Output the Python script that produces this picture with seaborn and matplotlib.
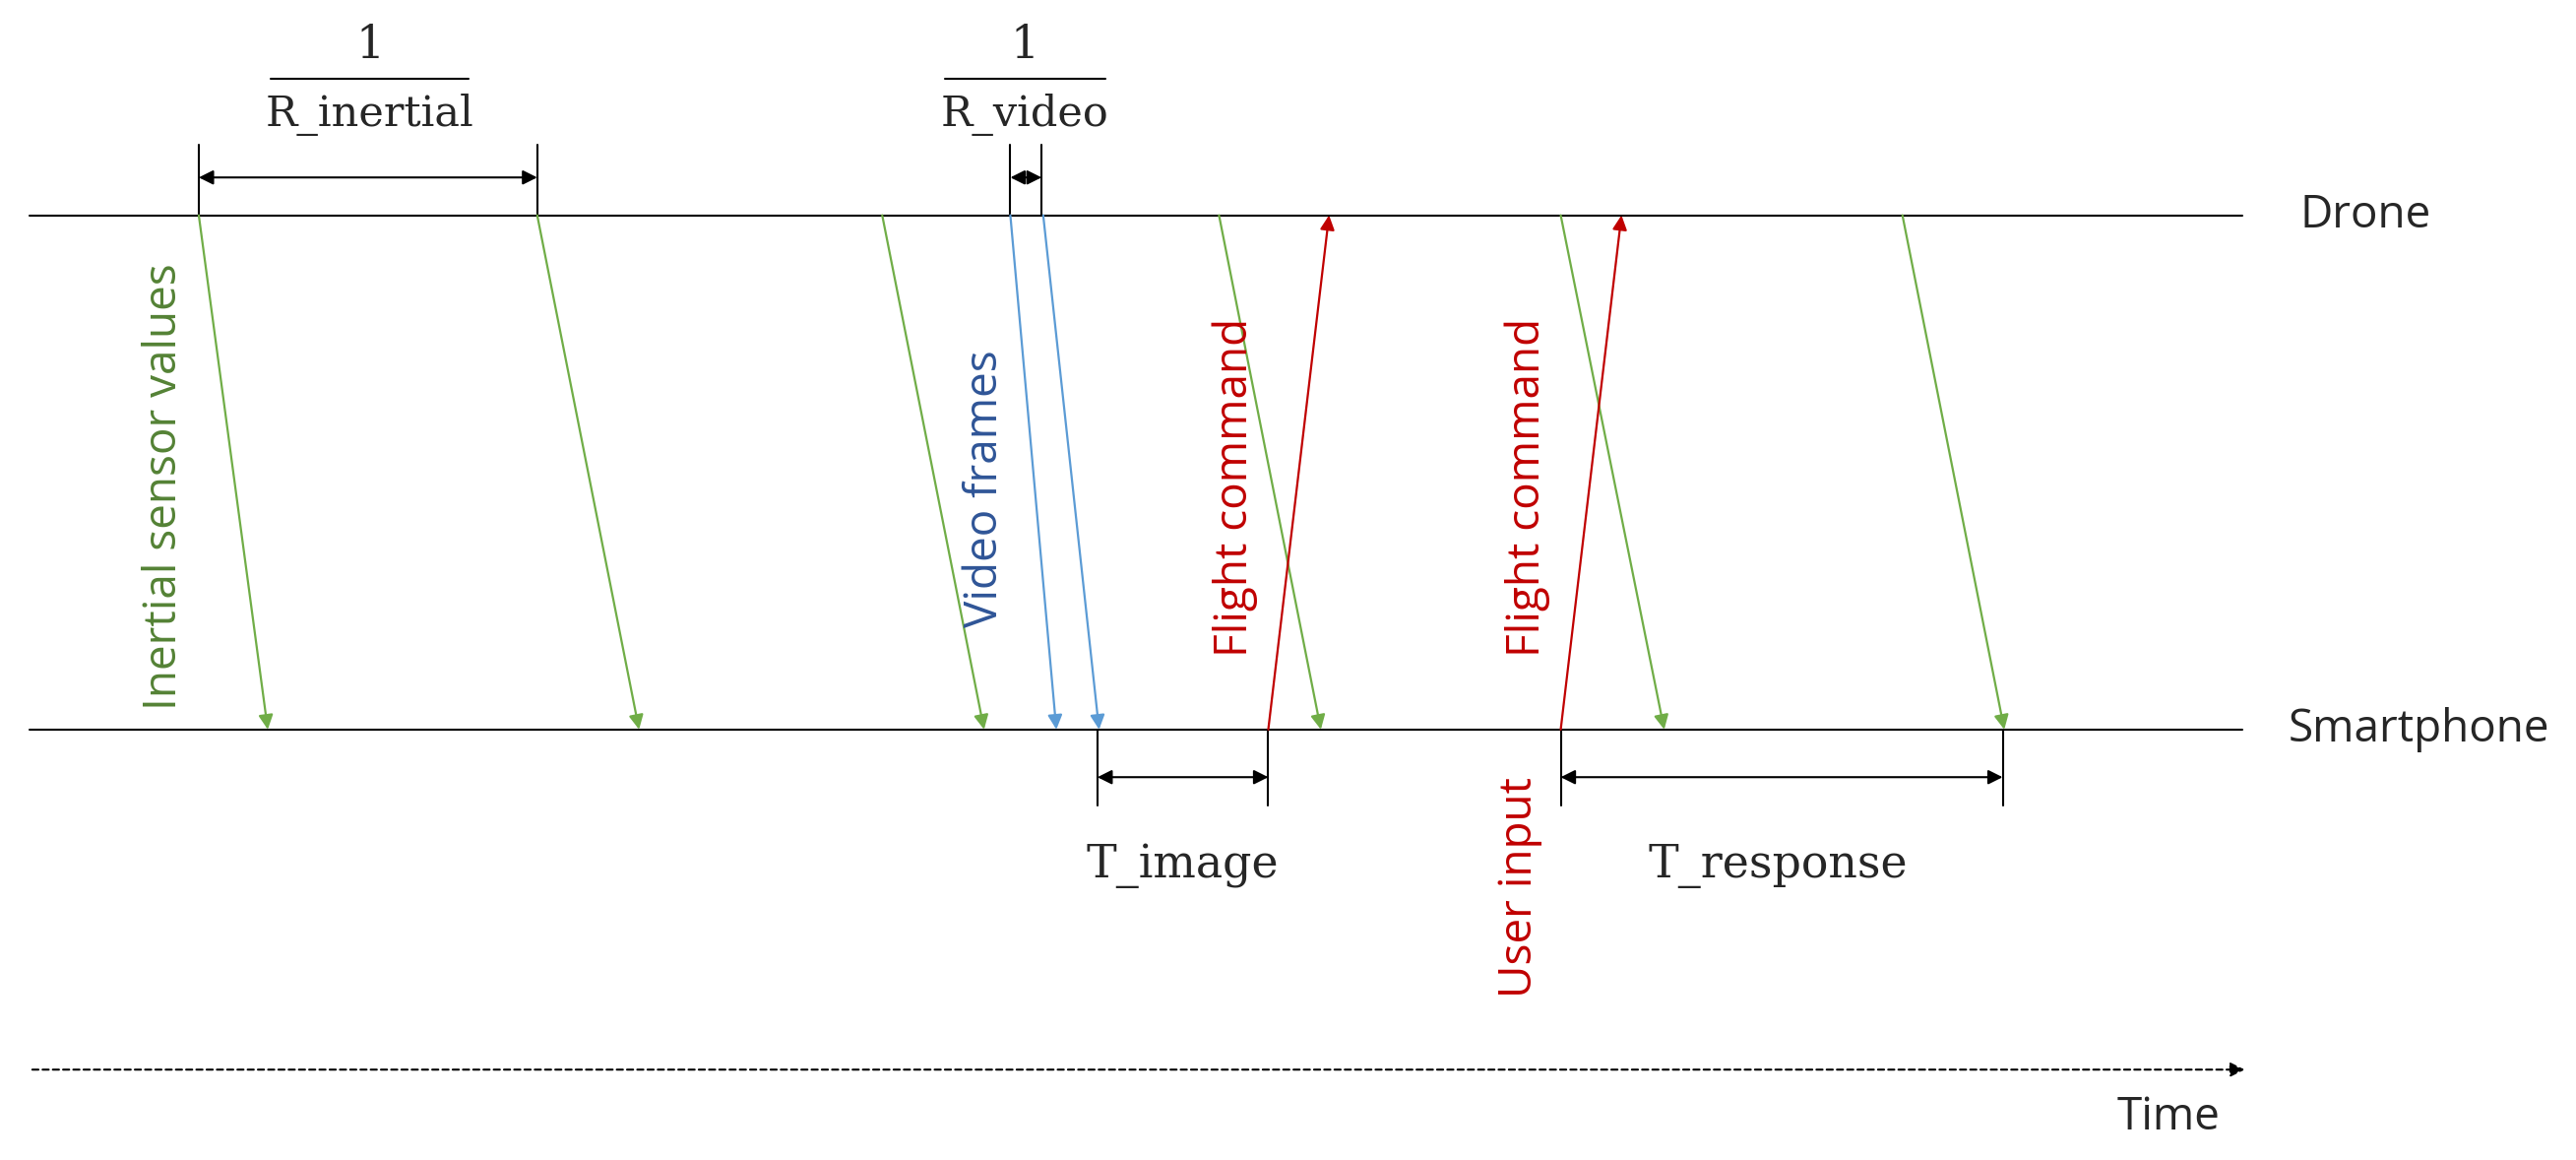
import seaborn as sns
import matplotlib.pyplot as plt
import pandas as pd

sns.set_theme(style="white")
plt.rcParams['font.family'] = ['Open Sans', 'DejaVu Sans']

# timeline (display units), arrows as (start time, end time)
drone_y = 131
phone_y = 444
inertial = [(121, 163), (327, 389), (537, 599), (742, 804), (950, 1013), (1158, 1220)]
video = [(615, 643), (635, 669)]
commands = [(772, 809), (950, 987)]

green = "#70AD47"
blue = "#5B9BD5"
red = "#C00000"
fs = 33

fig = plt.figure(figsize=(26.17, 11.78), dpi=100)
ax = fig.add_axes([0, 0, 1, 1])
ax.set_xlim(0, 1568)
ax.set_ylim(706, 0)
ax.axis("off")

lines = pd.DataFrame({"x": [18, 1365, 18, 1365], "y": [drone_y, drone_y, phone_y, phone_y],
                      "row": ["Drone", "Drone", "Smartphone", "Smartphone"]})
sns.lineplot(data=lines, x="x", y="y", units="row", estimator=None, color="black", lw=1.5, ax=ax)
ax.text(1400, drone_y, "Drone", fontsize=fs, va="center")
ax.text(1393, phone_y, "Smartphone", fontsize=fs, va="center")

def arrow(x0, y0, x1, y1, c, lw=1.6, style="-|>"):
    ax.annotate("", xy=(x1, y1), xytext=(x0, y0),
                arrowprops=dict(arrowstyle=style, color=c, lw=lw, mutation_scale=22, shrinkA=0, shrinkB=0))

for s, e in inertial:
    arrow(s, drone_y, e, phone_y, green)
for s, e in video:
    arrow(s, drone_y, e, phone_y, blue)
for s, e in commands:
    arrow(s, phone_y, e, drone_y, red)

def dim(x0, x1, ytop, ybot, ya):
    ax.plot([x0, x0], [ytop, ybot], color="black", lw=1.5)
    ax.plot([x1, x1], [ytop, ybot], color="black", lw=1.5)
    arrow(x0, ya, x1, ya, "black", lw=1.5, style="<|-|>")

serif = ['DejaVu Serif']
dim(121, 327, 88, drone_y, 108)
ax.text(225, 28, "1", fontsize=fs, ha="center", va="center", family=serif)
ax.plot([165, 285], [48, 48], color="black", lw=1.5)
ax.text(225, 70, "R_inertial", fontsize=fs - 2, ha="center", va="center", family=serif)

dim(615, 634, 88, drone_y, 108)
ax.text(624, 28, "1", fontsize=fs, ha="center", va="center", family=serif)
ax.plot([575, 673], [48, 48], color="black", lw=1.5)
ax.text(624, 70, "R_video", fontsize=fs - 2, ha="center", va="center", family=serif)

dim(668, 772, phone_y, 490, 473)
ax.text(720, 527, "T_image", fontsize=fs, ha="center", va="center", family=serif)
dim(950, 1219, phone_y, 490, 473)
ax.text(1082, 527, "T_response", fontsize=fs, ha="center", va="center", family=serif)

ax.text(100, 432, "Inertial sensor values", fontsize=fs, rotation=90, ha="center", va="bottom", color="#548235")
ax.text(600, 382, "Video frames", fontsize=fs, rotation=90, ha="center", va="bottom", color="#2F5597")
ax.text(752, 400, "Flight command", fontsize=fs, rotation=90, ha="center", va="bottom", color=red)
ax.text(930, 400, "Flight command", fontsize=fs, rotation=90, ha="center", va="bottom", color=red)
ax.text(925, 607, "User input", fontsize=fs, rotation=90, ha="center", va="bottom", color=red)

ax.annotate("", xy=(1368, 651), xytext=(18, 651),
            arrowprops=dict(arrowstyle="-|>", color="black", lw=1.5, ls=(0, (3, 2)), mutation_scale=22))
ax.text(1320, 680, "Time", fontsize=fs, ha="center", va="center")

fig.savefig("out.png", dpi=100)
